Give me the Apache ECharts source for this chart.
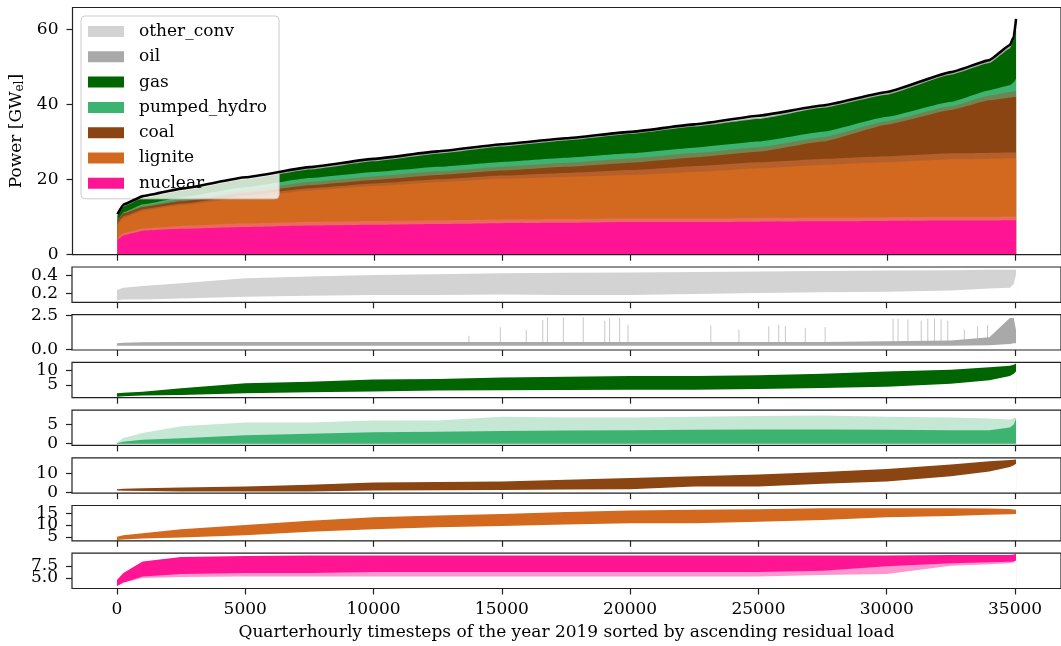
<!DOCTYPE html>
<html><head><meta charset="utf-8">
<script src="https://cdn.jsdelivr.net/npm/echarts@6/dist/echarts.min.js"></script>
<style>html,body{margin:0;padding:0;background:#fff}#c{width:1061px;height:646px}</style>
</head><body><div id="c"></div>
<script>
// ---- sample timesteps (sorted quarter-hour index) ----
const ts = [0, 250, 1000, 2500, 5000, 7500, 10000, 12500, 15000, 17500, 20000, 22500, 25000, 27500, 30000, 32500, 34000, 34800, 34950, 35039];

// ---- main stacked chart: mean generation [GW] ----
const nuclear     = [3.9, 5.2, 6.4, 6.9, 7.4, 7.8, 8.0, 8.2, 8.4, 8.5, 8.7, 8.7, 8.8, 8.9, 9.0, 9.1, 9.1, 9.2, 9.2, 9.2];
const lignite     = [4.0, 4.6, 5.3, 6.3, 7.9, 9.3, 10.3, 11.1, 11.8, 12.2, 12.5, 13.3, 14.2, 15.0, 15.6, 16.3, 16.4, 16.4, 16.4, 16.4];
const coal        = [1.3, 1.2, 1.0, 1.0, 1.2, 1.4, 1.6, 1.9, 2.2, 2.7, 3.3, 3.9, 4.4, 6.2, 10.0, 13.1, 15.6, 16.2, 16.4, 16.4];
const pumpedHydro = [0.0, 0.3, 0.7, 1.1, 1.5, 1.9, 2.1, 2.2, 2.3, 2.4, 2.5, 2.6, 2.7, 2.6, 2.1, 2.2, 2.7, 3.3, 3.9, 4.9];
const gas         = [1.1, 1.6, 1.7, 1.75, 2.05, 2.3, 2.9, 3.5, 4.1, 4.6, 5.1, 5.6, 6.0, 6.4, 5.9, 7.2, 7.2, 9.8, 11.2, 14.8];
const oil         = [0.3, 0.3, 0.3, 0.3, 0.3, 0.3, 0.3, 0.3, 0.3, 0.3, 0.3, 0.3, 0.3, 0.3, 0.4, 0.4, 0.5, 0.6, 0.7, 1.0];
const otherConv   = [0.2, 0.2, 0.2, 0.25, 0.25, 0.3, 0.3, 0.3, 0.3, 0.3, 0.3, 0.3, 0.3, 0.3, 0.3, 0.3, 0.3, 0.3, 0.2, 0.1];
const totalLoad   = [10.8, 13.4, 15.6, 17.6, 20.6, 23.3, 25.5, 27.5, 29.4, 31.0, 32.7, 34.7, 37.0, 39.7, 43.3, 48.6, 51.8, 55.8, 58.0, 62.8];

// ---- per-technology panels: envelope of the noisy series [GW] ----
const othLo = [0.12, 0.13, 0.13, 0.14, 0.16, 0.17, 0.18, 0.18, 0.185, 0.18, 0.18, 0.19, 0.2, 0.21, 0.215, 0.23, 0.25, 0.26, 0.3, 0.41];
const othHi = [0.234, 0.26, 0.28, 0.31, 0.366, 0.385, 0.40, 0.41, 0.42, 0.425, 0.43, 0.435, 0.44, 0.445, 0.45, 0.455, 0.46, 0.46, 0.46, 0.46];

const oilLo = [0.27, 0.27, 0.27, 0.27, 0.27, 0.27, 0.27, 0.27, 0.27, 0.27, 0.27, 0.27, 0.27, 0.27, 0.27, 0.27, 0.3, 0.4, 0.45, 0.45];
const oilHi = [0.45, 0.5, 0.52, 0.55, 0.55, 0.55, 0.55, 0.55, 0.55, 0.55, 0.55, 0.55, 0.55, 0.55, 0.6, 0.65, 0.9, 2.3, 2.3, 1.4];
const oilSpikeT = [13716, 14940, 15950, 16595, 16776, 17397, 18171, 19010, 19200, 19590, 19915, 23143, 24240, 25403, 25790, 26049, 26825, 27600, 30246, 30440, 30826, 31343, 31600, 31860, 32118, 32376, 33023, 33540, 33928];
const oilSpikeV = [1.0, 1.63, 1.45, 2.17, 2.37, 2.37, 2.37, 2.1, 2.3, 2.3, 1.8, 1.75, 1.45, 1.7, 1.8, 1.7, 1.6, 1.65, 2.25, 2.25, 2.2, 2.1, 2.25, 2.25, 2.2, 2.1, 1.45, 1.7, 1.8];

const gasLo = [1.0, 1.2, 1.4, 1.6, 2.2, 2.5, 2.8, 3.1, 3.2, 3.3, 3.4, 3.4, 3.6, 4.0, 4.4, 5.4, 6.6, 8.0, 8.8, 9.5];
const gasHi = [2.2, 2.4, 2.7, 3.9, 5.6, 6.1, 6.8, 7.0, 7.5, 7.8, 8.0, 8.0, 8.3, 8.8, 9.5, 10.1, 11.0, 11.5, 11.8, 12.2];

const phCoreHi  = [0.1, 0.5, 1.0, 1.4, 2.2, 2.6, 3.0, 3.1, 3.3, 3.4, 3.5, 3.6, 3.7, 3.7, 3.6, 3.5, 3.5, 4.2, 5.0, 6.5];
const phSpikeHi = [0.3, 1.5, 2.8, 4.5, 5.5, 5.5, 6.0, 6.0, 7.0, 6.8, 6.8, 7.0, 7.2, 7.3, 7.0, 6.8, 6.5, 6.3, 6.6, 6.8];

const coalLo = [1.1, 1.0, 0.8, 0.5, 0.5, 0.5, 1.1, 1.2, 1.4, 1.6, 1.8, 3.2, 3.2, 4.6, 5.9, 8.6, 11.2, 13.5, 14.5, 15.3];
const coalHi = [1.8, 2.0, 2.3, 2.7, 3.2, 4.1, 5.3, 5.6, 5.9, 6.8, 7.7, 8.6, 9.5, 10.9, 12.5, 14.8, 16.6, 17.2, 17.4, 17.5];

const ligLo = [3.6, 3.9, 4.3, 4.7, 5.7, 7.1, 8.2, 9.0, 9.6, 10.2, 10.7, 10.7, 11.4, 12.1, 13.3, 13.8, 14.3, 14.5, 14.6, 14.7];
const ligHi = [5.0, 5.6, 6.5, 8.2, 10.0, 11.8, 13.3, 14.0, 14.7, 15.5, 16.1, 16.4, 16.7, 17.1, 17.1, 17.1, 17.0, 16.8, 16.6, 16.4];

const nucSpikeLo = [3.3, 4.0, 5.0, 5.2, 5.3, 5.3, 5.3, 5.3, 5.3, 5.3, 5.3, 5.3, 5.3, 5.6, 5.8, 7.5, 7.8, 8.0, 8.2, 8.6];
const nucLo      = [3.3, 4.0, 5.3, 5.8, 6.0, 6.0, 6.2, 6.2, 6.2, 6.2, 6.2, 6.2, 6.2, 6.5, 7.4, 8.0, 8.2, 8.3, 8.4, 8.6];
const nucHi      = [4.6, 6.0, 8.4, 9.3, 9.5, 9.6, 9.6, 9.6, 9.6, 9.6, 9.6, 9.6, 9.6, 9.6, 9.6, 9.7, 9.7, 9.7, 9.8, 9.9];

// ---- axes / ticks ----
const xTicks = [0, 5000, 10000, 15000, 20000, 25000, 30000, 35000];
const mainYTicks = [0, 20, 40, 60];
const panelTicks = [[0.2, 0.4], [0, 2.5], [5, 10], [0, 5], [0, 10], [5, 10, 15], [5, 7.5]];
const legendNames = ['other_conv', 'oil', 'gas', 'pumped_hydro', 'coal', 'lignite', 'nuclear'];
const colors = {other_conv:'#d3d3d3', oil:'#a9a9a9', gas:'#006400', pumped_hydro:'#3cb371', coal:'#8b4513', lignite:'#d2691e', nuclear:'#ff1493'};

const FONT = 'DejaVu Serif';
const FS = 17;
const AXC = '#222';
const X_MIN = -1752, X_MAX = 36791;

const pts = arr => ts.map((t, i) => [t, arr[i]]);

const grids = [{left: 72, width: 996, top: 7.5, height: 247.2}];
const panelTops = [267, 314.7, 362.4, 410.1, 457.8, 505.5, 553.2];
panelTops.forEach(t => grids.push({left: 72, width: 996, top: t, height: 35.3}));
grids.forEach(g => { g.show = true; g.borderColor = AXC; g.borderWidth = 1.2; g.backgroundColor = 'transparent'; g.z = 10; });

const panelRange = [
  {min: 0.098, max: 0.49, dec: 1},
  {min: -0.04, max: 2.55, dec: 1},
  {min: 0.7, max: 12.6, dec: 0},
  {min: -0.43, max: 8.7, dec: 0},
  {min: -0.3, max: 18.4, dec: 0},
  {min: 3.3, max: 18.25, dec: 0},
  {min: 2.83, max: 10.08, dec: 1}
];

const xAxes = grids.map((g, i) => ({
  type: 'value', gridIndex: i, min: X_MIN, max: X_MAX, z: 10,
  axisLine: {show: false, onZero: false},
  splitLine: {show: false},
  axisTick: {show: true, length: 6, customValues: xTicks, lineStyle: {color: AXC, width: 1.2}},
  axisLabel: {show: i === 7, customValues: xTicks, margin: 13, fontFamily: FONT, fontSize: FS, color: '#000',
              showMinLabel: true, showMaxLabel: true, formatter: v => String(v)},
  name: i === 7 ? 'Quarterhourly timesteps of the year 2019 sorted by ascending residual load' : '',
  nameLocation: 'middle', nameGap: 36,
  nameTextStyle: {fontFamily: FONT, fontSize: FS, color: '#000'}
}));

const yAxes = [{
  type: 'value', gridIndex: 0, min: 0, max: 65.8, z: 10, position: 'left',
  axisLine: {show: false, onZero: false}, splitLine: {show: false},
  axisTick: {show: true, length: 6, customValues: mainYTicks, lineStyle: {color: AXC, width: 1.2}},
  axisLabel: {customValues: mainYTicks, margin: 14, fontFamily: FONT, fontSize: FS, color: '#000',
              showMinLabel: true, showMaxLabel: true, formatter: v => String(v)},
  name: '{a|Power [GW}{s|el}{a|]}', nameLocation: 'middle', nameGap: 47, nameRotate: 90,
  nameTextStyle: {rich: {
    a: {fontFamily: FONT, fontSize: FS, color: '#000'},
    s: {fontFamily: FONT, fontSize: 12, color: '#000', padding: [6, 0, 0, 0]}
  }}
}];
// one y axis per tick label so that crowded labels (as in the original) are all kept
const panelAxis = [0];
panelRange.forEach((p, k) => {
  panelAxis.push(yAxes.length);
  panelTicks[k].forEach(v => yAxes.push({
    type: 'value', gridIndex: k + 1, min: p.min, max: p.max, z: 10, position: 'left', offset: 0,
    axisLine: {show: false, onZero: false}, splitLine: {show: false},
    axisTick: {show: true, length: 6, customValues: [v], lineStyle: {color: AXC, width: 1.2}},
    axisLabel: {customValues: [v], margin: 14, fontFamily: FONT, fontSize: FS, color: '#000',
                showMinLabel: true, showMaxLabel: true, formatter: val => Number(val).toFixed(p.dec)}
  }));
});

function area(gi, vals, color, origin, name) {
  const s = {type: 'line', xAxisIndex: gi, yAxisIndex: panelAxis[gi], symbol: 'none', data: pts(vals),
             lineStyle: {width: 0}, areaStyle: {color: color, opacity: 1, origin: origin},
             color: color, silent: true};
  if (name) s.name = name;
  return s;
}

const series = [];
// main stackplot: cumulative tops drawn from the top layer down, each filled to the axis
const layers = [['nuclear', nuclear], ['lignite', lignite], ['coal', coal], ['pumped_hydro', pumpedHydro],
                ['gas', gas], ['oil', oil], ['other_conv', otherConv]];
const cum = [];
layers.forEach(([n, arr], k) => {
  cum.push(arr.map((v, i) => +(v + (k ? cum[k - 1][i] : 0)).toFixed(3)));
});
// soft transition zones that mimic the blended edges of the noisy stack
const mixColor = ['#ea6a5c', '#b5602a', '#6f8450'];
const mixShare = [0.12, 0.4, 0.45];
const mixCap = [1.0, 1.6, 1.5];
function mixTop(k) {
  return cum[k].map((v, i) => +(v + Math.min(mixCap[k], mixShare[k] * layers[k + 1][1][i])).toFixed(3));
}
for (let k = layers.length - 1; k >= 0; k--) {
  if (k <= 2) {
    const m = area(0, mixTop(k), mixColor[k], 'start');
    m.smooth = 0.12; m.smoothMonotone = 'x';
    series.push(m);
  }
  const s = area(0, cum[k], colors[layers[k][0]], 'start', layers[k][0]);
  s.smooth = 0.12; s.smoothMonotone = 'x';
  series.push(s);
}
series.push({
  name: 'residual load', type: 'line', xAxisIndex: 0, yAxisIndex: 0, symbol: 'none',
  data: pts(totalLoad), smooth: 0.12, smoothMonotone: 'x',
  lineStyle: {color: '#000', width: 2.6}, color: '#000', z: 5, silent: true
});

// panel 1: other_conv
series.push(area(1, othHi, colors.other_conv, 'start'), area(1, othLo, '#ffffff', 'start'));
// panel 2: oil
series.push(area(2, oilHi, colors.oil, 'start'), area(2, oilLo, '#ffffff', 'start'));
series.push({type: 'bar', xAxisIndex: 2, yAxisIndex: panelAxis[2], barWidth: 1, silent: true,
  data: oilSpikeT.map((t, i) => [t, oilSpikeV[i]]), itemStyle: {color: '#c8c8c8'}});
// panel 3: gas
series.push(area(3, gasHi, colors.gas, 'start'), area(3, gasLo, '#ffffff', 'start'));
// panel 4: pumped hydro (light = sparse spikes, solid = dense core)
series.push(area(4, phSpikeHi, '#c4e8d4', 'auto'), area(4, phCoreHi, colors.pumped_hydro, 'auto'));
// panel 5: coal
series.push(area(5, coalHi, colors.coal, 'start'), area(5, coalLo, '#ffffff', 'start'));
// panel 6: lignite
series.push(area(6, ligHi, colors.lignite, 'start'), area(6, ligLo, '#ffffff', 'start'));
// panel 7: nuclear
series.push(area(7, nucHi, colors.nuclear, 'start'), area(7, nucLo, '#ff95ce', 'start'),
            area(7, nucSpikeLo, '#ffffff', 'start'));

const chart = echarts.init(document.getElementById('c'), null, {renderer: 'canvas'});
chart.setOption({
  animation: false,
  backgroundColor: '#fff',
  grid: grids,
  xAxis: xAxes,
  yAxis: yAxes,
  legend: {
    left: 81, top: 16, orient: 'vertical', selectedMode: false,
    padding: [7, 12, 7, 7], itemGap: 8.3, itemWidth: 36, itemHeight: 11, icon: 'rect',
    backgroundColor: 'rgba(255,255,255,0.8)', borderColor: '#cccccc', borderWidth: 1, borderRadius: 4,
    textStyle: {fontFamily: FONT, fontSize: FS, color: '#000', padding: [0, 0, 0, 10]},
    data: legendNames.map(n => ({name: n, itemStyle: {color: colors[n]}}))
  },
  series: series
});
</script>
</body></html>
